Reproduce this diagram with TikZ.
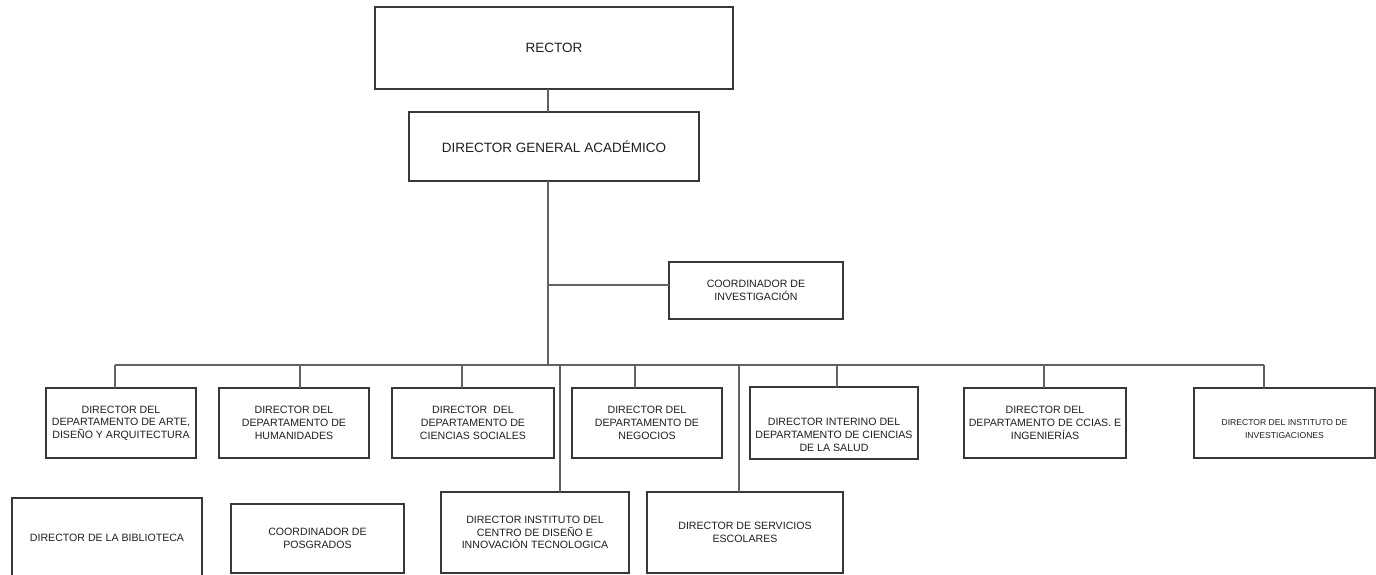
\documentclass[tikz,border=0pt]{standalone}
\usepackage{fontspec}
\setmainfont{Liberation Sans}
\begin{document}
\begin{tikzpicture}[x=1pt,y=-1pt,
  box/.style={draw=black!78, line width=1.1pt, fill=white, inner sep=0pt, outer sep=0pt, align=center, text=black!88},
  big/.style={font=\fontsize{13.5}{16}\selectfont},
  mid/.style={font=\fontsize{10.6}{12.7}\selectfont},
  sml/.style={font=\fontsize{8.6}{12.7}\selectfont},
  txt/.style={inner sep=0pt, align=center, text=black!88},
  conn/.style={draw=black!62, line width=1.1pt}]
\useasboundingbox (0,0) rectangle (1376,574);
\clip (0,0) rectangle (1376,574);
% boxes
\node[box,big,minimum width=358pt,minimum height=82pt] (rector) at (554,48) {RECTOR};
\node[box,big,minimum width=290pt,minimum height=69pt] (dga) at (554,146.5) {DIRECTOR GENERAL ACADÉMICO};
\node[box,mid,minimum width=174pt,minimum height=57pt] (coord) at (756,290.5) {COORDINADOR DE\\INVESTIGACIÓN};
\node[box,mid,minimum width=150pt,minimum height=70pt] (b1) at (121,423) {DIRECTOR DEL\\DEPARTAMENTO DE ARTE,\\DISEÑO Y ARQUITECTURA};
\node[box,mid,minimum width=150pt,minimum height=70pt] (b2) at (294,423) {DIRECTOR DEL\\DEPARTAMENTO DE\\HUMANIDADES};
\node[box,mid,minimum width=162pt,minimum height=70pt] (b3) at (473,423) {DIRECTOR~ DEL\\DEPARTAMENTO DE\\CIENCIAS SOCIALES};
\node[box,mid,minimum width=150pt,minimum height=70pt] (b4) at (647,423) {DIRECTOR DEL\\DEPARTAMENTO DE\\NEGOCIOS};
\node[box,minimum width=168pt,minimum height=72pt] (b5) at (834,423) {};
\node[txt,mid] (b5t) at (834,435) {DIRECTOR INTERINO DEL\\DEPARTAMENTO DE CIENCIAS\\DE LA SALUD};
\node[box,mid,minimum width=162pt,minimum height=70pt] (b6) at (1045,423) {DIRECTOR DEL\\DEPARTAMENTO DE CCIAS. E\\INGENIERÍAS};
\node[box,minimum width=181pt,minimum height=70pt] (b7) at (1284.5,423) {};
\node[txt,sml] (b7t) at (1284.5,429) {DIRECTOR DEL INSTITUTO DE\\INVESTIGACIONES};
\node[box,mid,minimum width=190pt,minimum height=80pt] (bib) at (107,538) {DIRECTOR DE LA BIBLIOTECA};
\node[box,mid,minimum width=173pt,minimum height=69pt] (pos) at (317.5,538.5) {COORDINADOR DE\\POSGRADOS};
\node[box,mid,minimum width=188pt,minimum height=81pt] (inst) at (535,532.5) {DIRECTOR INSTITUTO DEL\\CENTRO DE DISEÑO E\\INNOVACIÓN TECNOLOGICA};
\node[box,mid,minimum width=196pt,minimum height=81pt] (serv) at (745,532.5) {DIRECTOR DE SERVICIOS\\ESCOLARES};
% connectors
\coordinate (trunk) at (548,365);
\coordinate (cj) at (548,285);
\draw[conn] (trunk |- rector.south) -- (trunk |- dga.north);
\draw[conn] (trunk |- dga.south) -- (trunk);
\draw[conn] (cj) -- (cj -| coord.west);
\coordinate (t1) at (115,365);
\coordinate (t2) at (300,365);
\coordinate (t3) at (462,365);
\coordinate (t4) at (635,365);
\coordinate (t5) at (837,365);
\coordinate (t6) at (1044,365);
\coordinate (t7) at (1264,365);
\coordinate (ti) at (560,365);
\coordinate (ts) at (739,365);
\draw[conn] (t1) -- (t7);
\draw[conn] (t1) -- (t1 |- b1.north);
\draw[conn] (t2) -- (t2 |- b2.north);
\draw[conn] (t3) -- (t3 |- b3.north);
\draw[conn] (t4) -- (t4 |- b4.north);
\draw[conn] (t5) -- (t5 |- b5.north);
\draw[conn] (t6) -- (t6 |- b6.north);
\draw[conn] (t7) -- (t7 |- b7.north);
\draw[conn] (ti) -- (ti |- inst.north);
\draw[conn] (ts) -- (ts |- serv.north);
\end{tikzpicture}
\end{document}
